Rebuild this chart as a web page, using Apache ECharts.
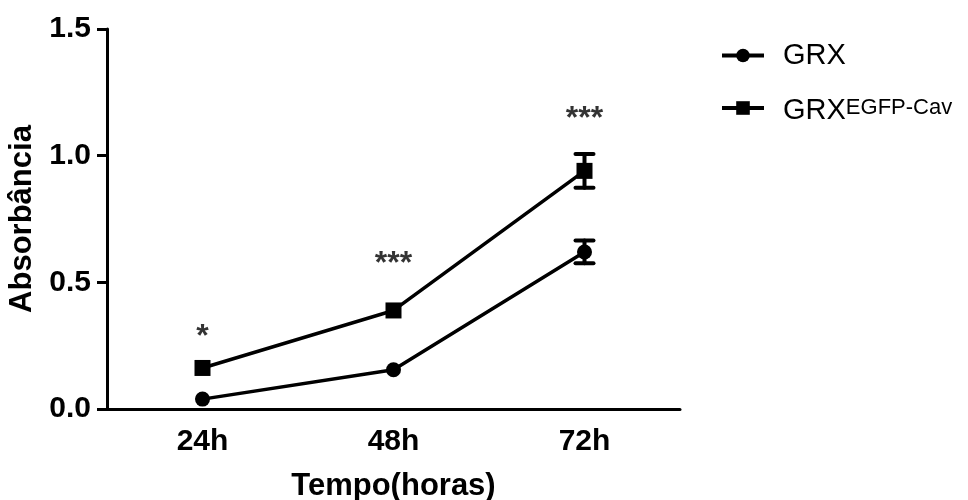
<!DOCTYPE html>
<html>
<head>
<meta charset="utf-8">
<script src="https://cdn.jsdelivr.net/npm/echarts@6/dist/echarts.min.js"></script>
<style>html,body{margin:0;padding:0;background:#fff;}#c{width:968px;height:500px;}</style>
</head>
<body>
<div id="c"></div>
<script>
var categories = ['24h', '48h', '72h'];
var grxValues = [0.039, 0.155, 0.62];
var grxErrors = [0.01, 0.01, 0.045];
var cavValues = [0.162, 0.389, 0.94];
var cavErrors = [0.01, 0.015, 0.067];
var sigLabels = ['*', '***', '***'];
var sigY = [0.31, 0.60, 1.17];
var yTicks = [0, 0.5, 1.0, 1.5];

var FONT = '"Liberation Sans", Arial, sans-serif';

function errorSeries(name, values, errors) {
  var data = values.map(function (v, i) { return [i, v - errors[i], v + errors[i]]; });
  return {
    type: 'custom',
    name: name + ' err',
    data: data,
    z: 3,
    silent: true,
    renderItem: function (params, api) {
      var x = api.value(0);
      var lo = api.coord([x, api.value(1)]);
      var hi = api.coord([x, api.value(2)]);
      if (Math.abs(lo[1] - hi[1]) / 2 < 8) return null;
      var hw = 9;
      var st = { stroke: '#000', lineWidth: 4, lineCap: 'round' };
      return {
        type: 'group',
        children: [
          { type: 'line', shape: { x1: hi[0], y1: hi[1], x2: lo[0], y2: lo[1] }, style: st },
          { type: 'line', shape: { x1: hi[0] - hw, y1: hi[1], x2: hi[0] + hw, y2: hi[1] }, style: st },
          { type: 'line', shape: { x1: lo[0] - hw, y1: lo[1], x2: lo[0] + hw, y2: lo[1] }, style: st }
        ]
      };
    }
  };
}

var chart = echarts.init(document.getElementById('c'), null, { renderer: 'canvas' });
chart.setOption({
  animation: false,
  backgroundColor: '#fff',
  grid: { left: 107, right: 288, top: 29, bottom: 91, containLabel: false, outerBoundsMode: 'none' },
  legend: {
    orient: 'vertical',
    left: 720,
    top: 41,
    padding: 0,
    itemWidth: 42,
    itemHeight: 17,
    itemGap: 4,
    data: ['GRX', 'GRX EGFP-Cav'],
    lineStyle: { width: 4 },
    formatter: function (name) {
      return name === 'GRX' ? '{m|GRX}' : '{m2|GRX}{s|EGFP-Cav}';
    },
    textStyle: {
      color: '#000',
      fontFamily: FONT,
      fontSize: 29,
      rich: {
        m: { fontFamily: FONT, fontSize: 29, lineHeight: 34, padding: [0, 0, 0, 14], color: '#000' },
        m2: { fontFamily: FONT, fontSize: 29, lineHeight: 34, padding: [22, 0, 0, 14], verticalAlign: 'bottom', color: '#000' },
        s: { fontFamily: FONT, fontSize: 22, verticalAlign: 'middle', color: '#000' }
      }
    }
  },
  xAxis: {
    type: 'category',
    data: categories,
    boundaryGap: true,
    name: 'Tempo(horas)',
    nameLocation: 'middle',
    nameGap: 62,
    nameTextStyle: { fontFamily: FONT, fontWeight: 'bold', fontSize: 31, color: '#000' },
    axisLine: { lineStyle: { color: '#000', width: 3 } },
    axisTick: { alignWithLabel: true, length: 11, lineStyle: { color: '#000', width: 3 } },
    axisLabel: { fontFamily: FONT, fontWeight: 'bold', fontSize: 30, color: '#000', margin: 18 },
    splitLine: { show: false }
  },
  yAxis: {
    type: 'value',
    min: 0,
    max: 1.5,
    interval: 0.5,
    name: 'Absorbância',
    nameLocation: 'middle',
    nameGap: 69,
    nameRotate: 90,
    nameTextStyle: { fontFamily: FONT, fontWeight: 'bold', fontSize: 31, color: '#000' },
    axisLine: { show: true, lineStyle: { color: '#000', width: 3 } },
    axisTick: { show: true, length: 10, lineStyle: { color: '#000', width: 3 } },
    axisLabel: {
      fontFamily: FONT, fontWeight: 'bold', fontSize: 30, color: '#000', margin: 16,
      formatter: function (v) { return yTicks.indexOf(v) >= 0 ? v.toFixed(1) : ''; }
    },
    splitLine: { show: false }
  },
  series: [
    {
      name: 'GRX',
      type: 'line',
      data: grxValues,
      symbol: 'circle',
      symbolSize: 15,
      showAllSymbol: true,
      z: 4,
      lineStyle: { color: '#000', width: 3.5 },
      itemStyle: { color: '#000', borderWidth: 0 }
    },
    {
      name: 'GRX EGFP-Cav',
      type: 'line',
      data: cavValues,
      symbol: 'rect',
      symbolSize: 16,
      showAllSymbol: true,
      z: 4,
      lineStyle: { color: '#000', width: 3.5 },
      itemStyle: { color: '#000', borderWidth: 0 }
    },
    errorSeries('GRX', grxValues, grxErrors),
    errorSeries('GRX EGFP-Cav', cavValues, cavErrors),
    {
      name: 'sig',
      type: 'scatter',
      data: sigY.map(function (v, i) { return [i, v]; }),
      symbolSize: 0,
      silent: true,
      label: {
        show: true,
        position: 'inside',
        offset: [0, 7],
        formatter: function (p) { return sigLabels[p.dataIndex]; },
        fontFamily: FONT,
        fontWeight: 'bold',
        fontSize: 32,
        color: '#000'
      }
    }
  ]
});
</script>
</body>
</html>
